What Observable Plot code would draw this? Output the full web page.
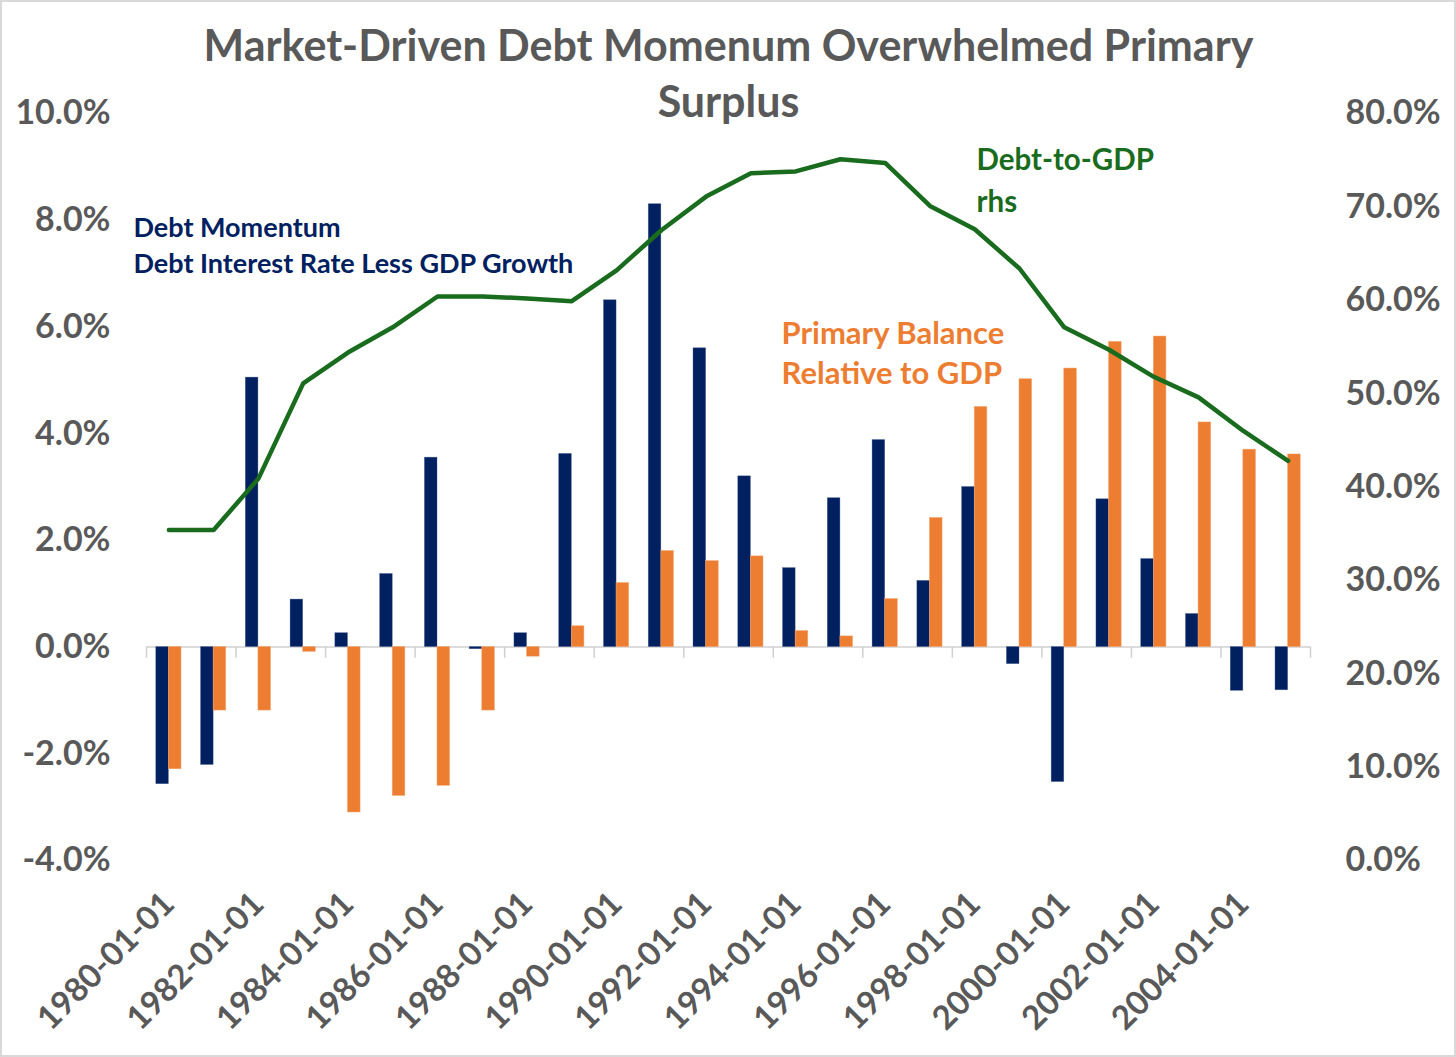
<!DOCTYPE html>
<html>
<head>
<meta charset="utf-8">
<script src="https://cdn.jsdelivr.net/npm/d3@7"></script>
<script src="https://cdn.jsdelivr.net/npm/@observablehq/plot@0.6"></script>
<style>
  html, body { margin: 0; padding: 0; background: #fff; }
  #chart svg { display: block; outline: 2px solid #d9d9d9; outline-offset: -2px; }
</style>
</head>
<body>
<div id="chart"></div>
<script>
const years = [1980,1981,1982,1983,1984,1985,1986,1987,1988,1989,1990,1991,1992,1993,1994,1995,1996,1997,1998,1999,2000,2001,2002,2003,2004,2005];
const debtMomentum = [-2.57,-2.21,5.05,0.89,0.26,1.37,3.55,-0.04,0.26,3.62,6.5,8.3,5.6,3.2,1.48,2.79,3.88,1.24,3.0,-0.32,-2.53,2.77,1.65,0.62,-0.82,-0.81];
const primaryBalance = [-2.29,-1.19,-1.19,-0.09,-3.1,-2.79,-2.6,-1.19,-0.18,0.39,1.2,1.8,1.61,1.7,0.3,0.2,0.9,2.42,4.5,5.02,5.22,5.72,5.82,4.21,3.7,3.61];
const debtToGDP = [35.4,35.4,40.9,51.1,54.4,57.1,60.4,60.4,60.2,59.9,63.2,67.5,71.1,73.6,73.8,75.1,74.7,70.1,67.6,63.4,57.1,54.7,51.8,49.6,46.0,42.8];
const leftTicks = [-4,-2,0,2,4,6,8,10];
const rightTicks = [0,10,20,30,40,50,60,70,80];
const xTickYears = [1980,1982,1984,1986,1988,1990,1992,1994,1996,1998,2000,2002,2004];
const titleLines = ["Market-Driven Debt Momenum Overwhelmed Primary", "Surplus"];
const momentumLabel = ["Debt Momentum", "Debt Interest Rate Less GDP Growth"];
const debtLabel = ["Debt-to-GDP", "rhs"];
const balanceLabel = ["Primary Balance", "Relative to GDP"];

const W = 1456, H = 1057;
const mL = 146, mR = 146, mT = 113, mB = 197;
const step = (W - mL - mR) / years.length;
const barW = 12.6;
const pad = 1 - barW / step;

const leftDomain = [-4, 10];
const rightDomain = [0, 80];
// map right-axis value onto left-axis scale
const toLeft = v => leftDomain[0] + (v - rightDomain[0]) / (rightDomain[1] - rightDomain[0]) * (leftDomain[1] - leftDomain[0]);
const fromLeft = d => rightDomain[0] + (d - leftDomain[0]) / (leftDomain[1] - leftDomain[0]) * (rightDomain[1] - rightDomain[0]);

const rows = years.map((y, i) => ({year: y, dm: debtMomentum[i], pb: primaryBalance[i], debt: toLeft(debtToGDP[i])}));

const NAVY = "#002060", ORANGE = "#ED7D31", GREEN = "#196B1D", GREY = "#595959";
const FONT = "Lato, 'Open Sans', sans-serif";

function label(lines, color, dx, dys, size) {
  return lines.map((t, i) => Plot.text([t], {frameAnchor: "top-left", dx, dy: dys[i], text: d => d, fontSize: size, fontWeight: "bold", fill: color, textAnchor: "start", lineAnchor: "middle"}));
}

const chart = Plot.plot({
  width: W, height: H,
  marginLeft: mL, marginRight: mR, marginTop: mT, marginBottom: mB,
  style: {fontFamily: FONT, background: "#fff"},
  x: {type: "band", domain: years, paddingInner: pad, paddingOuter: pad / 2, round: false, axis: null},
  y: {domain: leftDomain, axis: null},
  marks: [
    Plot.ruleY([0], {stroke: "#d0d0d0", strokeWidth: 1.5}),
    Plot.ruleX(xTickYears, {x: d => d, y1: 0, y2: -0.21, dx: -step / 2, stroke: "#d0d0d0", strokeWidth: 1.5}),
    Plot.ruleX([years[years.length - 1]], {x: d => d, y1: 0, y2: -0.21, dx: step / 2, stroke: "#d0d0d0", strokeWidth: 1.5}),
    Plot.barY(rows, {x: "year", y: "dm", fill: NAVY, dx: -barW / 2, stroke: "#4a5d8f", strokeWidth: 0.6, strokeOpacity: 0.6}),
    Plot.barY(rows, {x: "year", y: "pb", fill: ORANGE, dx: barW / 2, stroke: "#f4a46e", strokeWidth: 0.6, strokeOpacity: 0.8}),
    Plot.line(rows, {x: "year", y: "debt", stroke: GREEN, strokeWidth: 4.5, strokeLinejoin: "round"}),
    Plot.axisY(leftTicks, {anchor: "left", tickSize: 0, tickPadding: 36, tickFormat: d => d.toFixed(1) + "%", fontSize: 34, fontWeight: "bold", fill: GREY}),
    Plot.axisY(rightTicks.map(toLeft), {anchor: "right", tickSize: 0, tickPadding: 35, tickFormat: d => fromLeft(d).toFixed(1) + "%", fontSize: 34, fontWeight: "bold", fill: GREY}),
    Plot.axisX(xTickYears, {anchor: "bottom", label: null, tickSize: 0, tickPadding: 38, tickRotate: -45, tickFormat: d => d + "-01-01", fontSize: 33, fontWeight: "bold", fill: GREY}),
    // title
    Plot.text([titleLines[0]], {frameAnchor: "top", lineAnchor: "middle", dy: -66, text: d => d, fontSize: 43, fontWeight: "bold", fill: GREY}),
    Plot.text([titleLines[1]], {frameAnchor: "top", lineAnchor: "middle", dy: -10, text: d => d, fontSize: 43, fontWeight: "bold", fill: GREY}),
    // annotations
    ...label(momentumLabel, NAVY, -13, [115, 151], 27),
    ...label(debtLabel, GREEN, 830, [47, 89], 29.5),
    ...label(balanceLabel, ORANGE, 635, [221, 261], 31)
  ]
});
document.getElementById("chart").appendChild(chart);
</script>
</body>
</html>
